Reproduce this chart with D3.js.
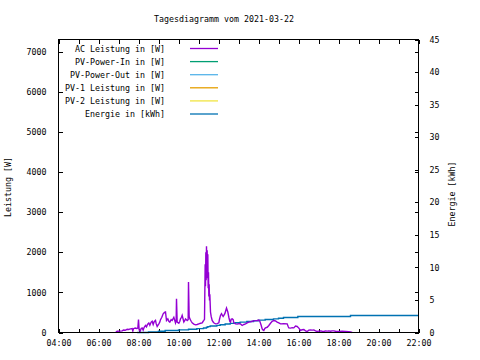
<!DOCTYPE html>
<html><head><meta charset="utf-8">
<script src="https://cdn.jsdelivr.net/npm/d3@7"></script>
<style>
html,body{margin:0;padding:0;background:#fff;}
svg text{font-family:"DejaVu Sans Mono","Liberation Mono",monospace;font-size:8.3px;fill:#000;}
</style></head>
<body>
<svg id="c" width="480" height="360"></svg>
<script>
const title = "Tagesdiagramm vom 2021-03-22";
const xTickHours = [4,5,6,7,8,9,10,11,12,13,14,15,16,17,18,19,20,21,22];
const xTickLabels = ["04:00","06:00","08:00","10:00","12:00","14:00","16:00","18:00","20:00","22:00"];
const y1Ticks = [0,1000,2000,3000,4000,5000,6000,7000];
const y2Ticks = [0,5,10,15,20,25,30,35,40,45];
const seriesNames = ["AC Leistung in [W]","PV-Power-In in [W]","PV-Power-Out in [W]","PV-1 Leistung in [W]","PV-2 Leistung in [W]","Energie in [kWh]"];
const seriesColors = ["#9400d3","#009e73","#56b4e9","#e69f00","#f0e442","#0072b2"];

const acTimes = ["06:52","06:56","07:05","07:11","07:15","07:20","07:26","07:30","07:36","07:41","07:43","07:45","07:50","07:55","07:58","08:00","08:02","08:05","08:08","08:11","08:14","08:17","08:21","08:24","08:27","08:31","08:34","08:38","08:41","08:44","08:47","08:51","08:53","08:56","09:01","09:04","09:06","09:10","09:14","09:18","09:21","09:24","09:28","09:31","09:34","09:38","09:41","09:44","09:46","09:51","09:53","09:54","09:56","10:01","10:04","10:06","10:09","10:11","10:14","10:16","10:19","10:21","10:26","10:29","10:30","10:32","10:34","10:38","10:41","10:46","10:51","10:56","11:01","11:06","11:11","11:14","11:16","11:18","11:20","11:21","11:22","11:23","11:24","11:25","11:26","11:27","11:28","11:29","11:30","11:31","11:32","11:33","11:34","11:36","11:38","11:41","11:45","11:48","11:51","11:56","12:01","12:03","12:06","12:09","12:11","12:14","12:16","12:19","12:21","12:24","12:26","12:28","12:31","12:34","12:36","12:38","12:41","12:44","12:46","12:51","12:56","13:01","13:06","13:11","13:16","13:21","13:26","13:31","13:36","13:41","13:46","13:51","13:56","14:01","14:04","14:08","14:11","14:14","14:16","14:19","14:21","14:26","14:31","14:36","14:41","14:46","14:51","14:56","15:01","15:06","15:16","15:26","15:29","15:31","15:36","15:41","15:46","15:51","15:56","16:01","16:06","16:11","16:16","16:21","16:26","16:31","16:36","16:41","16:46","16:51","16:56","17:01","17:06","17:11","17:16","17:21","17:26","17:31","17:36","17:41","17:46","17:51","17:56","18:01","18:11","18:21","18:31","18:36","18:41"];
const acValues = [10,30,35,40,60,55,80,75,90,100,40,95,110,100,110,320,60,30,100,115,60,130,175,140,200,235,180,260,280,200,270,300,220,150,215,260,320,380,465,500,510,300,340,280,260,320,300,350,380,240,300,840,260,230,280,340,380,425,330,260,300,340,300,320,1260,400,340,280,240,210,190,200,215,230,240,280,300,330,1700,1150,2000,1300,2150,1500,2050,1350,1950,1100,1500,900,1200,800,950,510,400,300,250,230,215,220,240,330,425,470,440,400,425,470,525,610,560,510,380,275,260,330,340,320,240,215,210,220,215,175,200,215,240,260,265,280,290,295,300,310,280,180,90,60,50,100,115,130,175,230,280,300,290,260,240,215,220,215,150,115,110,120,115,160,150,110,50,70,75,40,25,60,65,60,65,40,25,35,40,30,25,40,35,40,30,40,40,30,25,25,30,25,20,15,0];

const pvInValues = [];
const pvOutValues = [];
const pv1Values = [];
const pv2Values = [];

const energyTimes = ["07:56","08:30","09:00","09:20","10:00","10:30","10:55","11:15","11:24","11:28","11:35","11:55","12:05","12:20","12:35","12:50","13:05","13:25","13:45","14:00","14:20","14:45","15:00","15:15","15:58","18:36","22:00"];
const energyValues = [0,0.1,0.2,0.3,0.4,0.5,0.6,0.7,0.8,0.9,1.0,1.1,1.2,1.3,1.4,1.5,1.6,1.7,1.8,1.9,2.0,2.1,2.2,2.3,2.45,2.6,2.6];

const toH = s => { const [h,m] = s.split(":").map(Number); return h + m/60; };

const L = 58.5, R = 418.5, T = 39.5, B = 332.5;
const svg = d3.select("#c");
const x = d3.scaleLinear().domain([4,22]).range([L,R]);
const y = d3.scaleLinear().domain([0,7300]).range([B,T]);
const y2 = d3.scaleLinear().domain([0,45]).range([B,T]);

svg.append("text").attr("x",224).attr("y",21.5).attr("text-anchor","middle").text(title);

const fmtX = h => { const s = String(h).padStart(2,"0")+":00"; return xTickLabels.includes(s) ? s : ""; };

const gB = svg.append("g").attr("transform",`translate(0,${B})`)
  .call(d3.axisBottom(x).tickValues(xTickHours).tickSize(-4).tickPadding(8).tickFormat(fmtX));
const gT = svg.append("g").attr("transform",`translate(0,${T})`)
  .call(d3.axisTop(x).tickValues(xTickHours).tickSize(-4).tickFormat(""));
const gL = svg.append("g").attr("transform",`translate(${L},0)`)
  .call(d3.axisLeft(y).tickValues(y1Ticks).tickSize(-4).tickPadding(12).tickFormat(d3.format("d")));
const gR1 = svg.append("g").attr("transform",`translate(${R},0)`)
  .call(d3.axisRight(y).tickValues(y1Ticks).tickSize(-4).tickFormat(""));
const gR2 = svg.append("g").attr("transform",`translate(${R},0)`)
  .call(d3.axisRight(y2).tickValues(y2Ticks).tickSize(-4).tickPadding(11).tickFormat(d3.format("d")));
[gB,gT,gL,gR1,gR2].forEach(g => {
  g.select(".domain").remove();
  g.selectAll("line").attr("stroke","#000").attr("shape-rendering","crispEdges");
  g.attr("font-family",null).attr("font-size",null);
});

svg.append("text").attr("transform","translate(11,187) rotate(-90)").attr("text-anchor","middle").text("Leistung [W]");
svg.append("text").attr("transform","translate(455,194) rotate(-90)").attr("text-anchor","middle").text("Energie [kWh]");

// legend
seriesNames.forEach((n,i) => {
  const yy = 48.5 + 13.1*i;
  svg.append("text").attr("x",165).attr("y",yy+3).attr("text-anchor","end").text(n);
  svg.append("line").attr("x1",190).attr("x2",218).attr("y1",yy).attr("y2",yy)
    .attr("stroke",seriesColors[i]).attr("stroke-width",1.3);
});

const lineW = d3.line().x(d => x(toH(d[0]))).y(d => y(d[1]));
const lineE = d3.line().x(d => x(toH(d[0]))).y(d => y2(d[1])).curve(d3.curveStepAfter);

const empty = [pvInValues,pvOutValues,pv1Values,pv2Values];
empty.forEach((vals,i) => {
  if (vals.length) svg.append("path").datum(vals.map((v,j)=>[acTimes[j],v])).attr("d",lineW)
    .attr("fill","none").attr("stroke",seriesColors[i+1]);
});

svg.append("path").datum(energyTimes.map((t,i)=>[t,energyValues[i]])).attr("d",lineE)
  .attr("fill","none").attr("stroke",seriesColors[5]).attr("stroke-width",1.4);
svg.append("path").datum(acTimes.map((t,i)=>[t,acValues[i]])).attr("d",lineW)
  .attr("fill","none").attr("stroke",seriesColors[0]).attr("stroke-width",1.4).attr("stroke-linejoin","miter");

svg.append("rect").attr("x",L).attr("y",T).attr("width",R-L).attr("height",B-T)
  .attr("fill","none").attr("stroke","#000").attr("shape-rendering","crispEdges");
</script>
</body></html>
